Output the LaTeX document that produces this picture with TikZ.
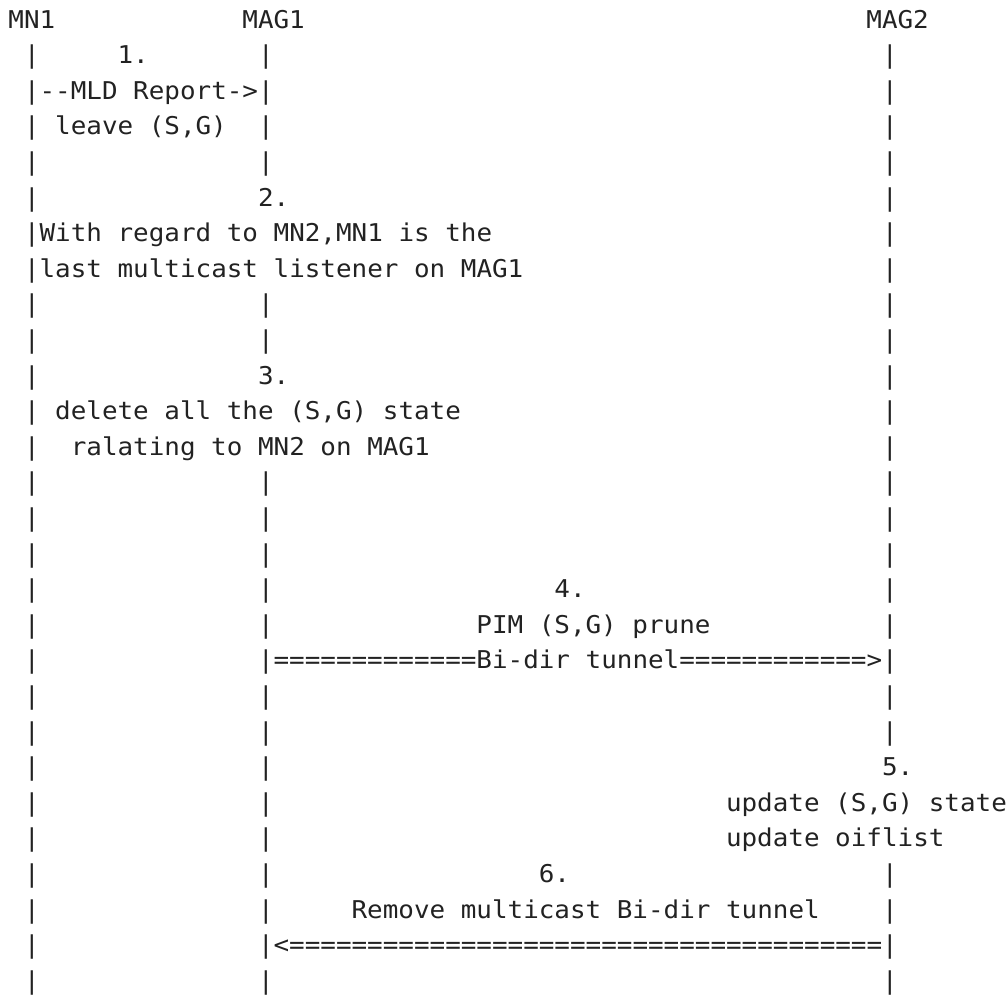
\documentclass[tikz,border=0pt]{standalone}
\usepackage{fontspec}
\setmonofont{DejaVu Sans Mono}[FakeStretch=1.058]
\definecolor{ink}{HTML}{222222}
\tikzset{txt/.style={anchor=base west, inner sep=0pt, outer sep=0pt,
  font=\ttfamily\fontsize{24.5}{30}\selectfont, text=ink}}
\newcommand\Ln[3]{\node[txt] (r#1c#2) at ({8.4+#2*15.6},{28+(#1-1)*35.6}) {#3};}
\begin{document}
\begin{tikzpicture}[x=1pt,y=-1pt]
\useasboundingbox (0,0) rectangle (1008,996);
% headings
\Ln{1}{0}{MN1}
\Ln{1}{15}{MAG1}
\Ln{1}{55}{MAG2}
% lifelines
\foreach \r in {2,...,28} {\Ln{\r}{1}{|}}
\foreach \r in {2,3,4,5,9,10,14,15,16,17,18,19,20,21,22,23,24,25,26,27,28} {\Ln{\r}{16}{|}}
\foreach \r in {2,...,21,25,26,27,28} {\Ln{\r}{56}{|}}
% messages
\Ln{2}{7}{1.}
\Ln{3}{2}{--MLD Report->}
\Ln{4}{3}{leave (S,G)}
\Ln{6}{16}{2.}
\Ln{7}{2}{With regard to MN2,MN1 is the}
\Ln{8}{2}{last multicast listener on MAG1}
\Ln{11}{16}{3.}
\Ln{12}{3}{delete all the (S,G) state}
\Ln{13}{4}{ralating to MN2 on MAG1}
\Ln{17}{35}{4.}
\Ln{18}{30}{PIM (S,G) prune}
\Ln{19}{17}{=============Bi-dir tunnel============>}
\Ln{22}{56}{5.}
\Ln{23}{46}{update (S,G) state}
\Ln{24}{46}{update oiflist}
\Ln{25}{34}{6.}
\Ln{26}{22}{Remove multicast Bi-dir tunnel}
\Ln{27}{17}{<======================================}
\end{tikzpicture}
\end{document}
